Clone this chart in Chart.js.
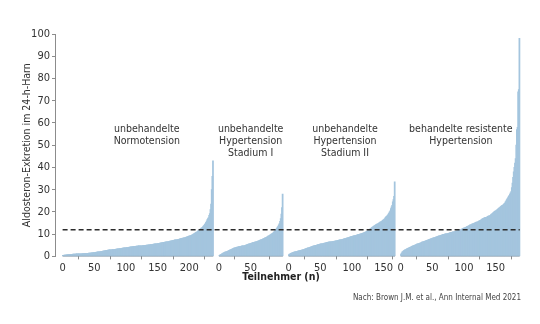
<!DOCTYPE html>
<html>
<head>
<meta charset="utf-8">
<script src="https://cdn.jsdelivr.net/npm/chart.js@4/dist/chart.umd.min.js"></script>
<style>
  html, body { margin: 0; padding: 0; background: #fff; }
  #box { width: 540px; height: 324px; }
</style>
</head>
<body>
<div id="box"><canvas id="aldoChart"></canvas></div>
<script>
// Aldosteron-Exkretion je Teilnehmer, aufsteigend sortiert, eine Liste pro Gruppe
const normotension = [
  0.5,0.5,0.6,0.6,0.6,0.7,0.7,0.7,0.8,0.8,
  0.8,0.8,0.9,0.9,0.9,0.9,1.0,1.0,1.0,1.0,
  1.0,1.1,1.1,1.1,1.1,1.2,1.2,1.2,1.2,1.2,
  1.2,1.3,1.3,1.3,1.3,1.4,1.4,1.4,1.4,1.4,
  1.4,1.5,1.5,1.5,1.5,1.6,1.6,1.6,1.7,1.7,
  1.7,1.8,1.8,1.9,1.9,2.0,2.0,2.1,2.1,2.2,
  2.2,2.3,2.3,2.4,2.4,2.5,2.5,2.6,2.6,2.7,
  2.7,2.8,2.8,2.9,2.9,2.9,3.0,3.0,3.1,3.1,
  3.1,3.2,3.2,3.2,3.3,3.3,3.4,3.4,3.4,3.5,
  3.5,3.5,3.6,3.6,3.7,3.7,3.8,3.8,3.9,3.9,
  4.0,4.0,4.0,4.1,4.1,4.2,4.2,4.3,4.3,4.3,
  4.4,4.4,4.4,4.5,4.5,4.5,4.6,4.6,4.6,4.7,
  4.7,4.7,4.7,4.8,4.8,4.8,4.9,4.9,4.9,5.0,
  5.0,5.0,5.1,5.1,5.1,5.2,5.2,5.2,5.3,5.3,
  5.3,5.4,5.4,5.5,5.5,5.6,5.6,5.7,5.7,5.8,
  5.8,5.9,5.9,6.0,6.0,6.1,6.1,6.2,6.2,6.3,
  6.3,6.4,6.4,6.5,6.5,6.6,6.7,6.7,6.8,6.9,
  6.9,7.0,7.0,7.1,7.2,7.2,7.3,7.4,7.4,7.5,
  7.5,7.6,7.7,7.7,7.8,7.9,8.0,8.0,8.1,8.2,
  8.2,8.3,8.4,8.5,8.6,8.7,8.8,8.9,9.0,9.1,
  9.2,9.3,9.4,9.5,9.7,9.8,10.0,10.2,10.4,10.6,
  10.7,10.9,11.1,11.4,11.6,11.8,12.1,12.3,12.5,12.8,
  13.0,13.3,13.6,14.0,14.4,14.8,15.3,15.9,16.5,17.0,
  17.5,18.5,19.2,21.0,23.5,30.0,36.0,43.0
];
const stadium1 = [
  0.4,0.6,0.8,0.9,1.1,1.3,1.5,1.6,1.8,1.9,
  2.0,2.1,2.2,2.3,2.5,2.6,2.7,2.9,3.0,3.2,
  3.3,3.4,3.6,3.7,3.8,3.9,4.0,4.1,4.2,4.2,
  4.3,4.4,4.4,4.5,4.5,4.6,4.7,4.7,4.8,4.8,
  4.9,5.0,5.1,5.2,5.3,5.4,5.5,5.6,5.7,5.8,
  5.9,6.0,6.1,6.2,6.2,6.3,6.4,6.5,6.6,6.7,
  6.8,6.9,7.0,7.1,7.2,7.4,7.5,7.6,7.7,7.9,
  8.0,8.1,8.3,8.4,8.6,8.7,8.9,9.1,9.2,9.4,
  9.6,9.8,10.0,10.2,10.4,10.6,10.9,11.2,11.5,11.9,
  12.3,12.7,13.2,13.6,14.2,14.8,15.8,17.0,19.0,22.0,
  28.0
];
const stadium2 = [
  0.8,1.0,1.2,1.4,1.5,1.6,1.7,1.8,1.9,2.0,
  2.1,2.2,2.2,2.3,2.4,2.5,2.5,2.6,2.6,2.7,
  2.8,2.9,3.0,3.1,3.2,3.3,3.4,3.5,3.6,3.7,
  3.8,3.9,4.0,4.1,4.2,4.3,4.4,4.5,4.6,4.7,
  4.8,4.9,5.0,5.0,5.1,5.2,5.3,5.3,5.4,5.5,
  5.6,5.6,5.7,5.8,5.8,5.9,6.0,6.0,6.1,6.2,
  6.3,6.3,6.4,6.4,6.5,6.5,6.6,6.6,6.7,6.7,
  6.8,6.8,6.9,6.9,7.0,7.0,7.1,7.2,7.2,7.3,
  7.4,7.4,7.5,7.6,7.6,7.7,7.8,7.9,8.0,8.0,
  8.1,8.2,8.3,8.4,8.5,8.6,8.7,8.8,8.9,9.0,
  9.0,9.1,9.2,9.3,9.4,9.4,9.5,9.6,9.7,9.8,
  9.8,9.9,10.0,10.1,10.2,10.3,10.4,10.5,10.6,10.7,
  10.8,11.0,11.1,11.3,11.5,11.6,11.8,12.0,12.3,12.5,
  12.7,13.0,13.2,13.4,13.6,13.8,14.0,14.2,14.4,14.5,
  14.6,14.8,15.0,15.2,15.4,15.5,15.7,15.9,16.2,16.4,
  16.6,16.9,17.3,17.7,18.0,18.2,18.6,19.0,19.5,20.0,
  20.5,21.5,22.3,23.0,24.5,25.5,27.0,33.5
];
const resistent = [
  1.0,1.5,2.0,2.2,2.5,2.7,2.9,3.0,3.2,3.4,
  3.5,3.6,3.8,3.9,4.1,4.2,4.3,4.5,4.6,4.8,
  4.9,5.0,5.1,5.2,5.4,5.5,5.6,5.7,5.8,5.9,
  6.0,6.1,6.2,6.4,6.5,6.6,6.7,6.8,6.9,7.0,
  7.1,7.2,7.3,7.5,7.6,7.7,7.8,7.9,8.0,8.1,
  8.2,8.3,8.4,8.5,8.6,8.7,8.8,8.9,9.0,9.1,
  9.2,9.3,9.4,9.5,9.6,9.7,9.8,9.9,9.9,10.0,
  10.1,10.1,10.2,10.3,10.3,10.4,10.5,10.6,10.7,10.8,
  10.8,10.9,11.0,11.1,11.1,11.2,11.3,11.4,11.5,11.5,
  11.6,11.7,11.8,11.9,12.1,12.2,12.3,12.4,12.6,12.7,
  12.8,12.9,13.1,13.2,13.4,13.5,13.6,13.8,14.0,14.2,
  14.2,14.3,14.5,14.6,14.8,14.8,15.0,15.1,15.3,15.4,
  15.4,15.6,15.7,15.9,16.1,16.1,16.3,16.5,16.8,17.0,
  17.0,17.2,17.4,17.5,17.6,17.6,17.8,18.0,18.1,18.2,
  18.2,18.5,18.8,19.0,19.3,19.5,19.8,20.0,20.3,20.5,
  20.5,20.8,21.0,21.3,21.6,21.8,22.0,22.3,22.5,22.8,
  22.8,23.1,23.4,23.7,24.0,24.5,25.0,25.5,26.0,26.5,
  27.0,27.5,28.0,28.6,29.2,31.0,33.0,35.5,38.0,40.0,
  42.0,44.0,50.0,57.0,58.0,74.0,75.0,98.0
];

const gruppen = [normotension, stadium1, stadium2, resistent];
const gruppenTitel = [
  ['unbehandelte', 'Normotension'],
  ['unbehandelte', 'Hypertension', 'Stadium I'],
  ['unbehandelte', 'Hypertension', 'Stadium II'],
  ['behandelte resistente', 'Hypertension']
];
const xTicks = [
  [0, 50, 100, 150, 200],
  [0, 50],
  [0, 50, 100, 150],
  [0, 50, 100, 150]
];
const schwelle = 12;
const yTicks = [0, 10, 20, 30, 40, 50, 60, 70, 80, 90, 100];
const xTitel = 'Teilnehmer (n)';
const yTitel = 'Aldosteron-Exkretion im 24-h-Harn';
const quelle = 'Nach: Brown J.M. et al., Ann Internal Med 2021';

// Layout: Gruppen nebeneinander auf einer gemeinsamen x-Achse
const LUECKE = 9;
const offsets = [];
let pos = 0;
gruppen.forEach(g => { offsets.push(pos); pos += g.length + LUECKE; });
const xEnde = offsets[3] + resistent.length;

const FONT = '"Liberation Sans Narrow", "DejaVu Sans Condensed", "Roboto", sans-serif';
const balkenFarbe = 'rgb(164,197,222)';

const balkenSets = gruppen.map((g, k) => ({
  type: 'bar',
  data: g.map((v, i) => ({ x: offsets[k] + i + 0.5, y: v })),
  backgroundColor: balkenFarbe,
  borderWidth: 0,
  grouped: false,
  barThickness: 1.1,
  order: 2
}));

const grundlinien = gruppen.map((g, k) => ({
  type: 'line',
  data: [{ x: offsets[k], y: 0 }, { x: offsets[k] + g.length, y: 0 }],
  borderColor: '#7d8c98',
  borderWidth: 1,
  pointRadius: 0,
  order: 1
}));

const schwellenLinie = {
  type: 'line',
  data: [{ x: 0, y: schwelle }, { x: xEnde, y: schwelle }],
  borderColor: '#2b2b2b',
  borderWidth: 1.5,
  borderDash: [5, 3],
  pointRadius: 0,
  order: 0
};

// Beschriftungen der Gruppen und der x-Achse
const titelPlugin = {
  id: 'gruppenTitel',
  afterDatasetsDraw(chart) {
    const { ctx, scales: { x, y } } = chart;
    const anker = [133, 50, 89, 95];
    ctx.save();
    ctx.font = '10.5px ' + FONT;
    ctx.fillStyle = '#333';
    ctx.textAlign = 'center';
    ctx.textBaseline = 'middle';
    gruppenTitel.forEach((zeilen, k) => {
      const cx = x.getPixelForValue(offsets[k] + anker[k]);
      const top = y.getPixelForValue(57);
      zeilen.forEach((z, j) => ctx.fillText(z, cx, top + j * 11.7));
    });
    // Achsentitel mittig unter der Luecke zwischen Gruppe 2 und 3
    ctx.font = 'bold 10.5px ' + FONT;
    ctx.fillStyle = '#222';
    ctx.fillText(xTitel, x.getPixelForValue(offsets[2] - 12), x.bottom - 16);
    ctx.restore();
  }
};

new Chart(document.getElementById('aldoChart'), {
  type: 'bar',
  data: { datasets: [...balkenSets, ...grundlinien, schwellenLinie] },
  options: {
    responsive: true,
    maintainAspectRatio: false,
    animation: false,
    layout: { padding: { left: 21, right: 19, top: 34, bottom: 21 } },
    plugins: {
      legend: { display: false },
      tooltip: { enabled: false },
      subtitle: {
        display: true,
        text: quelle,
        position: 'bottom',
        align: 'end',
        color: '#444',
        font: { family: FONT, size: 8 },
        padding: 0
      }
    },
    scales: {
      x: {
        type: 'linear',
        offset: false,
        min: -12,
        max: xEnde + 2,
        afterFit: s => { s.height = 37; },
        afterBuildTicks: s => {
          s.ticks = [];
          xTicks.forEach((t, k) => t.forEach(v => s.ticks.push({ value: offsets[k] + v })));
        },
        ticks: {
          autoSkip: false,
          maxRotation: 0,
          padding: 2,
          color: '#333',
          font: { family: FONT, size: 11 },
          callback: v => {
            for (let k = 3; k >= 0; k--) {
              if (v >= offsets[k]) return String(Math.round(v - offsets[k]));
            }
            return '';
          }
        },
        grid: { drawOnChartArea: false, tickLength: 3, color: '#8c8c8c' },
        border: { display: false }
      },
      y: {
        min: 0,
        max: 100,
        afterFit: s => { s.width = 34; },
        afterBuildTicks: s => { s.ticks = yTicks.map(v => ({ value: v })); },
        ticks: {
          padding: 2,
          color: '#333',
          font: { family: FONT, size: 11 }
        },
        grid: { drawOnChartArea: false, tickLength: 3, color: '#8c8c8c' },
        border: { color: '#8c8c8c' },
        title: {
          display: true,
          text: yTitel,
          color: '#333',
          font: { family: FONT, size: 10.5 },
          padding: 0
        }
      }
    }
  },
  plugins: [titelPlugin]
});
</script>
</body>
</html>
